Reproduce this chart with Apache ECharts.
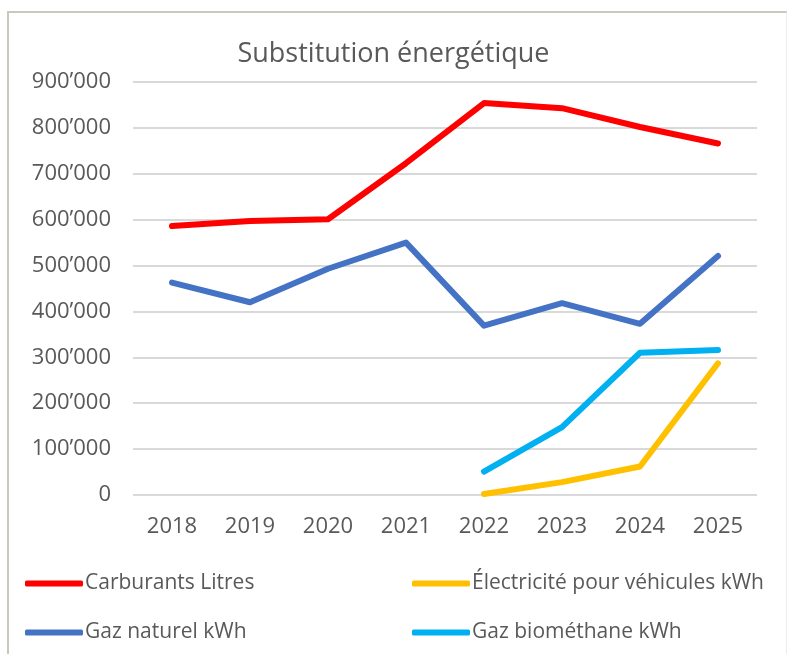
<!DOCTYPE html>
<html lang="fr">

<head>
    <meta charset="UTF-8">
    <title>Substitution énergétique</title>
    <script src="https://cdn.jsdelivr.net/npm/echarts@6/dist/echarts.min.js"></script>
    <style>
        body { margin: 0; background: #fff; }
        #chart { position: absolute; left: 0; top: 0; width: 787px; height: 654px; }
        #frame {
            position: absolute; left: 7px; top: 11px; width: 777px; height: 650px;
            border-left: 2px solid #c8c8c0; border-top: 2px solid #c8c8c0; border-right: 1px solid #ececec;
            pointer-events: none;
        }
    </style>
</head>

<body>
    <div id="chart"></div>
    <div id="frame"></div>
    <script>
        // données
        var years = ['2018', '2019', '2020', '2021', '2022', '2023', '2024', '2025'];
        var carburants = [586000, 597000, 601000, 723000, 854000, 843000, 802000, 766000];
        var gazNaturel = [463000, 420000, 493000, 550000, 369000, 418000, 373000, 521000];
        var electricite = [null, null, null, null, 2000, 28000, 62000, 287000];
        var biomethane = [null, null, null, null, 51000, 148000, 310000, 316000];

        var names = ['Carburants Litres', 'Électricité pour véhicules kWh', 'Gaz naturel kWh', 'Gaz biométhane kWh'];
        var colors = ['#ff0000', '#ffc000', '#4472c4', '#00b0f0'];
        var values = [carburants, electricite, gazNaturel, biomethane];

        var txt = '#595959';
        var font = 'Open Sans';

        var myChart = echarts.init(document.getElementById('chart'));

        var series = [];
        for (var i = 0; i < names.length; i++) {
            series.push({
                name: names[i],
                type: 'line',
                data: values[i],
                symbol: 'none',
                color: colors[i],
                lineStyle: { width: 6, color: colors[i], cap: 'round', join: 'round' }
            });
        }

        function legendBox(list, left) {
            return {
                data: list,
                orient: 'vertical',
                left: left,
                top: 568,
                itemGap: 28,
                itemWidth: 58,
                itemHeight: 6,
                icon: 'roundRect',
                textStyle: { color: txt, fontSize: 21, fontFamily: font, padding: [0, 0, 0, -3] }
            };
        }

        var option = {
            animation: false,
            title: {
                text: 'Substitution énergétique',
                left: 'center',
                top: 36,
                textStyle: { color: txt, fontSize: 27, fontWeight: 'normal', fontFamily: font }
            },
            legend: [
                legendBox([names[0], names[2]], 20),
                legendBox([names[1], names[3]], 407)
            ],
            grid: { left: 133, right: 30, top: 82, bottom: 159 },
            xAxis: {
                type: 'category',
                data: years,
                axisLine: { show: false },
                axisTick: { show: false },
                axisLabel: { color: txt, fontSize: 22, fontFamily: font, margin: 21 }
            },
            yAxis: {
                type: 'value',
                min: 0,
                max: 900000,
                interval: 100000,
                axisLabel: {
                    color: txt, fontSize: 22, fontFamily: font, margin: 22,
                    formatter: function (v) {
                        if (v === 0) return '0';
                        return String(v / 1000) + '’000';
                    }
                },
                splitLine: { lineStyle: { color: '#d9d9d9', width: 2 } }
            },
            series: series
        };

        myChart.setOption(option);
    </script>
</body>

</html>
